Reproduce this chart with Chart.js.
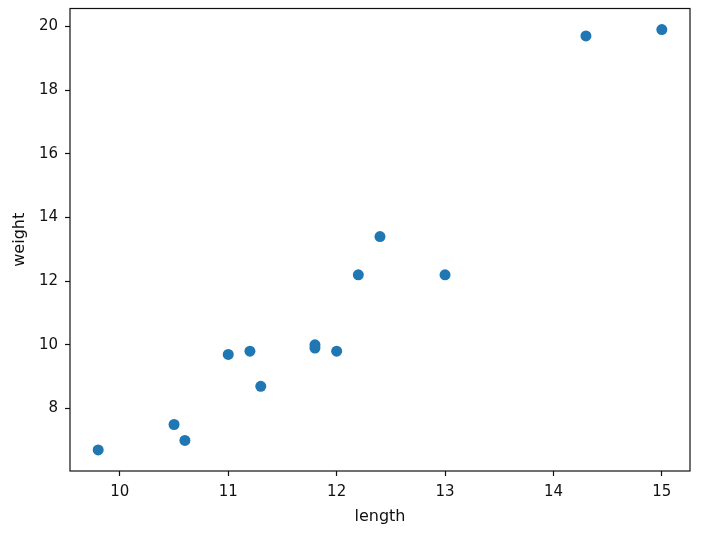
<!DOCTYPE html>
<html>
<head>
<meta charset="utf-8">
<script src="https://cdn.jsdelivr.net/npm/chart.js@4/dist/chart.umd.min.js"></script>
<style>
  html, body { margin: 0; padding: 0; background: #fff; }
</style>
</head>
<body>
<canvas id="chart" width="718" height="544"></canvas>
<script>
const lengths = [9.8, 10.5, 10.6, 11.0, 11.2, 11.3, 11.8, 11.8, 12.0, 12.2, 12.4, 13.0, 14.3, 15.0];
const weights = [6.7, 7.5, 7.0, 9.7, 9.8, 8.7, 10.0, 9.9, 9.8, 12.2, 13.4, 12.2, 19.7, 19.9];
const xTicks = [10, 11, 12, 13, 14, 15];
const yTicks = [8, 10, 12, 14, 16, 18, 20];

const points = lengths.map((x, i) => ({ x, y: weights[i] }));

// matplotlib style box around the plot
const frame = {
  id: 'frame',
  afterDraw(chart) {
    const { ctx, chartArea: a } = chart;
    ctx.save();
    ctx.strokeStyle = '#111';
    ctx.lineWidth = 1.2;
    ctx.strokeRect(a.left, a.top, a.right - a.left, a.bottom - a.top);
    ctx.restore();
  },
};

const tickStyle = {
  display: true,
  drawOnChartArea: false,
  drawTicks: true,
  tickLength: 5,
  tickWidth: 1.2,
  tickColor: '#111',
};

const tickFont = { family: 'DejaVu Sans', size: 15 };
const titleFont = { family: 'DejaVu Sans', size: 16 };

// fixed box sizes, no extra label padding, so the plot area sits where it should
const fixBox = (w, h) => (s) => {
  if (w) s.width = w;
  if (h) s.height = h;
  s.paddingTop = 0;
  s.paddingBottom = 0;
  s.paddingLeft = 0;
  s.paddingRight = 0;
};

new Chart(document.getElementById('chart'), {
  type: 'scatter',
  data: {
    datasets: [{
      data: points,
      backgroundColor: '#1f77b4',
      borderColor: '#1f77b4',
      pointRadius: 5.5,
      pointHoverRadius: 5.5,
      borderWidth: 0,
    }],
  },
  options: {
    responsive: false,
    animation: false,
    layout: { padding: { left: 10, right: 28, top: 8.5, bottom: 18 } },
    plugins: { legend: { display: false }, tooltip: { enabled: false } },
    scales: {
      x: {
        type: 'linear',
        min: 9.54,
        max: 15.26,
        afterBuildTicks: (s) => { s.ticks = xTicks.map((v) => ({ value: v })); },
        afterFit: fixBox(0, 55),
        grid: tickStyle,
        border: { display: false },
        ticks: {
          color: '#111',
          padding: 7,
          maxRotation: 0,
          font: tickFont,
        },
        title: {
          display: true,
          text: 'length',
          color: '#111',
          padding: { top: 0, bottom: 0 },
          font: titleFont,
        },
      },
      y: {
        type: 'linear',
        min: 6.04,
        max: 20.56,
        afterBuildTicks: (s) => { s.ticks = yTicks.map((v) => ({ value: v })); },
        afterFit: fixBox(60, 0),
        grid: tickStyle,
        border: { display: false },
        ticks: {
          color: '#111',
          padding: 7,
          font: tickFont,
        },
        title: {
          display: true,
          text: 'weight',
          color: '#111',
          padding: { top: 0, bottom: 0 },
          font: titleFont,
        },
      },
    },
  },
  plugins: [frame],
});
</script>
</body>
</html>
